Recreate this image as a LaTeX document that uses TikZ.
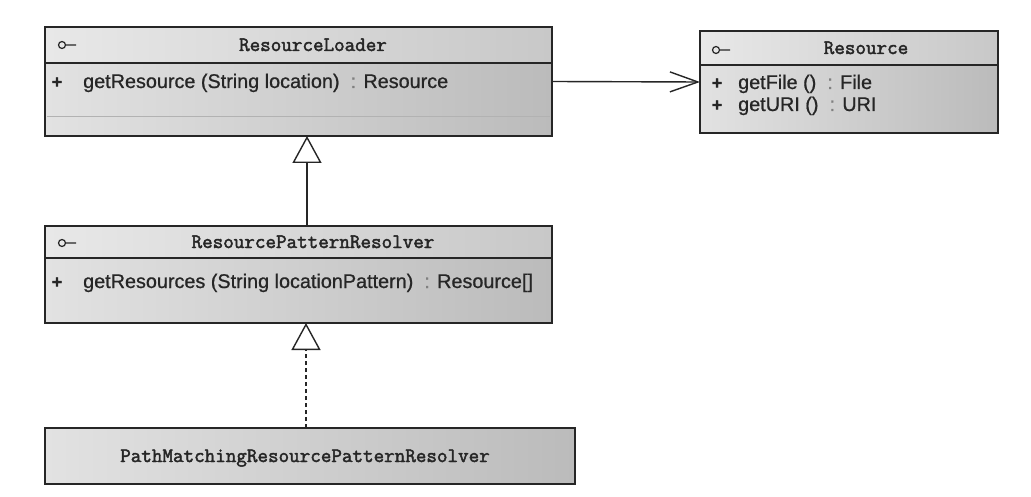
\documentclass[tikz,border=0pt]{standalone}
\usepackage{fontspec}
\setmainfont{Liberation Sans}
\newfontfamily\methfont{Liberation Sans}[FakeBold=0.8]
\newfontfamily\titlefont{Latin Modern Mono}[FakeBold=2.2]
\usetikzlibrary{arrows.meta}
\definecolor{edge}{HTML}{262626}
\definecolor{bodyL}{HTML}{E2E2E2}
\definecolor{bodyR}{HTML}{BBBBBB}
\definecolor{headL}{HTML}{E8E8E8}
\definecolor{headR}{HTML}{C8C8C8}
\tikzset{
  classbox/.style={draw=edge, line width=1.8pt, rectangle, inner sep=0pt, outer sep=0pt,
    anchor=north west, left color=bodyL, right color=bodyR},
  headbox/.style={rectangle, inner sep=0pt, outer sep=0pt, anchor=north west,
    left color=headL, right color=headR},
  ctitle/.style={inner sep=0pt, anchor=base, font=\titlefont\fontsize{20.5}{22}\selectfont, text=black!85},
  cmethod/.style={inner sep=0pt, anchor=base west, font=\methfont\fontsize{19.8}{22}\selectfont, text=black!85},
  cplus/.style={inner sep=0pt, anchor=base, font=\methfont\bfseries\fontsize{18}{20}\selectfont, text=black!85},
  divider/.style={draw=edge, line width=1.6pt},
  faint/.style={draw=gray!60, line width=1pt},
  conn/.style={draw=edge, line width=1.4pt},
  gen/.style={conn, -{Triangle[open, length=27pt, width=29pt, fill=white]}},
  dep/.style={conn, -{Straight Barb[length=28pt, width=20pt]}},
  icon/.style={draw=edge, line width=1.2pt},
}
\newcommand{\clsicon}[2]{\draw[icon] (#1,#2) circle (3.5) (#1+3.5,#2) -- (#1+14,#2);}
\begin{document}
\begin{tikzpicture}[x=1pt, y=-1pt]
\useasboundingbox[fill=white] (0,0) rectangle (1031,497);

% ResourceLoader
\node[classbox, minimum width=507pt, minimum height=109pt] (rl) at (45,27) {};
\node[headbox, minimum width=505pt, minimum height=35pt] (rlh) at (46,28) {};
\draw[divider] (rl.west |- 0,63) coordinate (rld1) -- (rl.east |- rld1);
\draw[faint] ([xshift=2pt]rl.west |- 0,117) coordinate (rld2) -- ([xshift=-2pt]rl.east |- rld2);
\draw[divider] (rl.north west) rectangle (rl.south east);
\clsicon{62}{45}
\node[ctitle] (rlt) at (313,51) {ResourceLoader};
\node[cplus] (rlp) at (57,88) {+};
\node[cmethod] (rlm) at (83,88) {getResource (String location) \ {\color{gray}:} Resource};

% Resource
\node[classbox, minimum width=298pt, minimum height=102pt] (res) at (700,31) {};
\node[headbox, minimum width=296pt, minimum height=33pt] (resh) at (701,32) {};
\draw[divider] (res.west |- 0,65) coordinate (resd1) -- (res.east |- resd1);
\draw[divider] (res.north west) rectangle (res.south east);
\clsicon{716}{50}
\node[ctitle] (rest) at (866,54) {Resource};
\node[cplus] (resp1) at (717,89) {+};
\node[cmethod] (resm1) at (738,89) {getFile () \ {\color{gray}:} File};
\node[cplus] (resp2) at (717,111) {+};
\node[cmethod] (resm2) at (738,111) {getURI () \ {\color{gray}:} URI};

% ResourcePatternResolver
\node[classbox, minimum width=507pt, minimum height=97pt] (rpr) at (45,226) {};
\node[headbox, minimum width=505pt, minimum height=31pt] (rprh) at (46,227) {};
\draw[divider] (rpr.west |- 0,258) coordinate (rprd1) -- (rpr.east |- rprd1);
\draw[divider] (rpr.north west) rectangle (rpr.south east);
\clsicon{62}{243}
\node[ctitle] (rprt) at (313,248) {ResourcePatternResolver};
\node[cplus] (rprp) at (57,288) {+};
\node[cmethod] (rprm) at (83,288) {getResources (String locationPattern) \ {\color{gray}:} Resource[]};

% PathMatchingResourcePatternResolver
\node[classbox, minimum width=530pt, minimum height=56pt] (pm) at (45,428) {};
\node[ctitle] (pmt) at (305,462) {PathMatchingResourcePatternResolver};

% connectors
\draw[dep] (rl.east) -- (res.west);
\draw[gen] ([xshift=8.5pt]rpr.north) -- ([xshift=8.5pt]rl.south);
\draw[gen, dash pattern=on 4pt off 3pt] ([xshift=-4pt]pm.north) -- ([xshift=7.5pt]rpr.south);
\end{tikzpicture}
\end{document}
